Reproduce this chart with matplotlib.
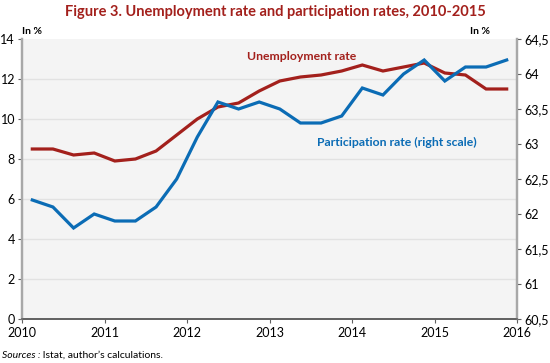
import numpy as np
from matplotlib import pyplot as plt

# quarterly data 2010Q1 - 2015Q4
years = [2010, 2011, 2012, 2013, 2014, 2015]
unemp = [8.5, 8.5, 8.2, 8.3,
         7.9, 8.0, 8.4, 9.2,
         10.0, 10.6, 10.8, 11.4,
         11.9, 12.1, 12.2, 12.4,
         12.7, 12.4, 12.6, 12.8,
         12.3, 12.2, 11.5, 11.5]
partic = [62.2, 62.1, 61.8, 62.0,
          61.9, 61.9, 62.1, 62.5,
          63.1, 63.6, 63.5, 63.6,
          63.5, 63.3, 63.3, 63.4,
          63.8, 63.7, 64.0, 64.2,
          63.9, 64.1, 64.1, 64.2]
left_ticks = [0, 2, 4, 6, 8, 10, 12, 14]
right_ticks = [60.5, 61, 61.5, 62, 62.5, 63, 63.5, 64, 64.5]
right_labels = ["60,5", "61", "61,5", "62", "62,5", "63", "63,5", "64", "64,5"]
x_ticks = [2010, 2011, 2012, 2013, 2014, 2015, 2016]

# mid-quarter positions
x = np.array([y + (q + 0.5) / 4 for y in years for q in range(4)])

RED = "#a3201c"
BLUE = "#0b6cb5"
plt.rcParams['font.family'] = ['Lato', 'DejaVu Sans']

W, H = 550, 363
fig = plt.figure(figsize=(W / 100, H / 100), dpi=100)
ax = fig.add_axes([22 / W, 1 - 319 / H, 495 / W, 280 / H])
ax.set_facecolor("#f4f4f4")
ax2 = ax.twinx()
ax2.patch.set_visible(False)

ax.plot(x, unemp, color=RED, lw=2.3, solid_joinstyle="miter")
ax2.plot(x, partic, color=BLUE, lw=2.3, solid_joinstyle="miter")

ax.set_xlim(2010, 2016)
ax.set_ylim(0, 14)
ax2.set_ylim(60.5, 64.5)
ax.set_xticks(x_ticks)
ax.set_xticklabels([str(t) for t in x_ticks], fontsize=9)
ax.set_yticks(left_ticks)
ax.set_yticklabels([str(t) for t in left_ticks], fontsize=9)
ax2.set_yticks(right_ticks)
ax2.set_yticklabels(right_labels, fontsize=9)

for g in left_ticks[1:-1]:
    ax.axhline(g, color="#e2e2e2", lw=1, zorder=0)

for a in (ax, ax2):
    a.spines["top"].set_visible(False)
    a.spines["left"].set_color("#a8a8a8")
    a.spines["left"].set_linewidth(1.6)
    a.spines["right"].set_color("#a8a8a8")
    a.spines["right"].set_linewidth(1.6)
    a.spines["bottom"].set_color("#606060")
    a.spines["bottom"].set_linewidth(1.2)
ax.tick_params(axis="y", length=3, width=0.8, color="#606060", pad=2)
ax.tick_params(axis="x", length=3, width=0.8, color="#606060", pad=3)
ax2.tick_params(axis="y", length=3, width=0.8, color="#606060", pad=2)

fig.text(275 / W, 1 - 12 / H, "Figure 3. Unemployment rate and participation rates, 2010-2015",
         ha="center", va="center", color=RED, fontsize=10.5, fontweight="bold")
fig.text(22 / W, 1 - 31 / H, "In %", ha="left", va="center", fontsize=7.5, fontweight="bold")
fig.text(490 / W, 1 - 31 / H, "In %", ha="right", va="center", fontsize=7.5, fontweight="bold")

fig.text(302 / W, 1 - 57 / H, "Unemployment rate", ha="center", va="center",
         color=RED, fontsize=8.8, fontweight="bold")
fig.text(397 / W, 1 - 142 / H, "Participation rate (right scale)", ha="center", va="center",
         color=BLUE, fontsize=8.8, fontweight="bold")

t1 = fig.text(2 / W, 1 - 355 / H, "Sources :", ha="left", va="center",
              fontsize=7.5, style="italic")
ax.annotate(" Istat, author\u2019s calculations.", xy=(1, 0.5), xycoords=t1,
            ha="left", va="center", fontsize=7.5, annotation_clip=False)

fig.savefig("out.png", dpi=100)
